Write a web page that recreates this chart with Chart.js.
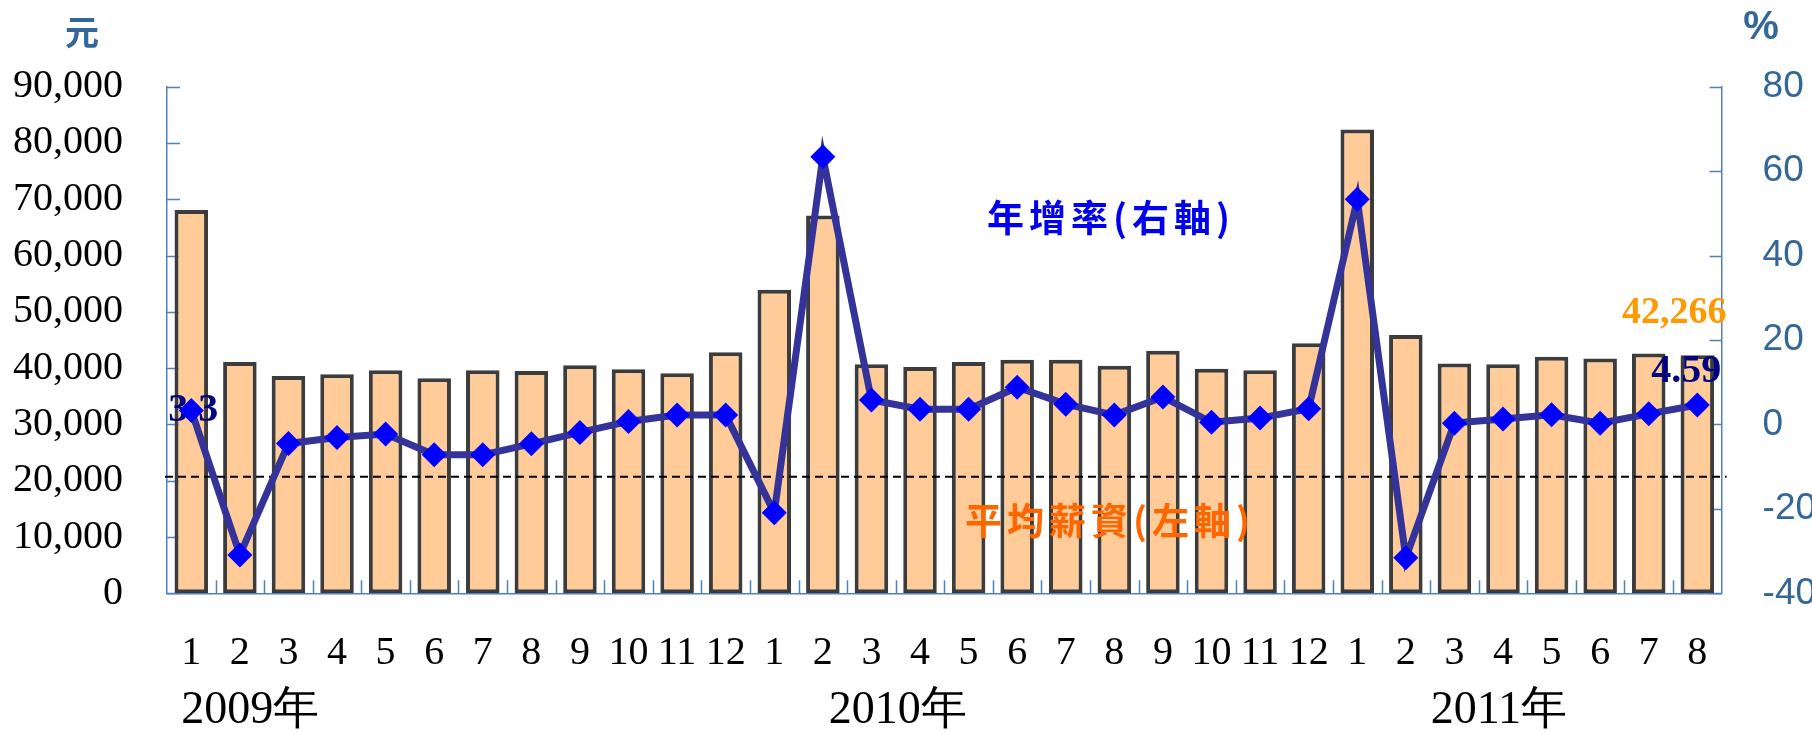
<!DOCTYPE html>
<html>
<head>
<meta charset="utf-8">
<script src="https://cdn.jsdelivr.net/npm/chart.js@4.4.1/dist/chart.umd.min.js"></script>
<style>
  html, body { margin: 0; padding: 0; background: #ffffff; }
  #wrap { width: 1812px; height: 732px; position: relative; }
</style>
</head>
<body>
<div id="wrap"><canvas id="chart" width="1812" height="732"></canvas></div>
<script>
// Monthly categories, Jan 2009 – Aug 2011
const months = [
  '1','2','3','4','5','6','7','8','9','10','11','12',
  '1','2','3','4','5','6','7','8','9','10','11','12',
  '1','2','3','4','5','6','7','8'
];
const yearLabels = ['2009年', '2010年', '2011年'];

// Average monthly wage (NT$), left axis
const avgWage = [
  68100, 41100, 38600, 38900, 39600, 38200, 39600, 39500, 40500, 39800, 39100, 42800,
  53900, 67100, 40700, 40200, 41100, 41500, 41500, 40400, 43100, 39900, 39600, 44400,
  82400, 45900, 40800, 40700, 42000, 41700, 42600, 42266
];

// Year-on-year growth rate (%), right axis
const growthRate = [
  3.3, -30.9, -4.5, -3.1, -2.3, -7.2, -7.2, -4.6, -1.9, 0.7, 2.2, 2.2,
  -20.9, 63.4, 5.8, 3.6, 3.6, 8.8, 4.8, 2.2, 6.5, 0.5, 1.5, 3.7,
  53.3, -31.6, 0.3, 1.3, 2.3, 0.3, 2.5, 4.59
];

// Axis ranges
const wageAxis = { min: 0, max: 90000, step: 10000 };
const rateAxis = { min: -40, max: 80, step: 20 };

// Dashed reference level on the wage axis
const referenceWage = 20700;

const wageUnit = '元';
const rateUnit = '%';
const rateSeriesName = '年增率(右軸)';
const wageSeriesName = '平均薪資(左軸)';

const AXIS_BLUE = '#4F81BD';
const LABEL_BLUE = '#336699';
const SERIF = '"Liberation Serif", "Times New Roman", serif';
const SANS = '"Liberation Sans", Arial, sans-serif';
const CJK = '"Noto Sans CJK TC", "Noto Sans CJK SC", sans-serif';

const fmt = v => Number(v).toLocaleString('en-US');

const decorations = {
  id: 'decorations',
  beforeDatasetsDraw(chart) {
    const { ctx, chartArea: a, scales } = chart;
    ctx.save();
    ctx.strokeStyle = AXIS_BLUE;
    ctx.lineWidth = 1.5;
    // inward major ticks on both value axes
    const yl = scales.yWage, yr = scales.yRate, x = scales.x;
    ctx.beginPath();
    yl.ticks.forEach(t => {
      const py = Math.round(yl.getPixelForValue(t.value)) + 0.5;
      ctx.moveTo(a.left, py); ctx.lineTo(a.left + 13, py);
    });
    yr.ticks.forEach(t => {
      const py = Math.round(yr.getPixelForValue(t.value)) + 0.5;
      ctx.moveTo(a.right, py); ctx.lineTo(a.right - 12, py);
    });
    // category boundary ticks on the x axis
    const half = (x.getPixelForValue(1) - x.getPixelForValue(0)) / 2;
    for (let i = 1; i < months.length; i++) {
      const px = Math.round(x.getPixelForValue(i) - half) + 0.5;
      ctx.moveTo(px, a.bottom); ctx.lineTo(px, a.bottom - 13);
    }
    ctx.stroke();
    ctx.restore();
  },
  afterDatasetDraw(chart, args) {
    if (args.index !== 0) return;
    const { ctx, chartArea: a, scales } = chart;
    ctx.save();
    // dashed reference line
    const ry = scales.yWage.getPixelForValue(referenceWage);
    ctx.strokeStyle = '#000000';
    ctx.lineWidth = 2;
    ctx.setLineDash([8, 5]);
    ctx.beginPath();
    ctx.moveTo(a.left - 2, ry); ctx.lineTo(a.right + 5, ry);
    ctx.stroke();
    ctx.setLineDash([]);

    // value labels
    const lineMeta = chart.getDatasetMeta(1);
    const barMeta = chart.getDatasetMeta(0);
    const last = months.length - 1;
    ctx.textAlign = 'center';
    ctx.textBaseline = 'middle';
    ctx.font = 'bold 40px ' + SERIF;
    ctx.fillStyle = '#000080';
    const p0 = lineMeta.data[0];
    ctx.fillText(String(growthRate[0]), p0.x + 2, p0.y);
    const pl = lineMeta.data[last];
    ctx.fillText(String(growthRate[last]), pl.x - 11, pl.y - 33);
    const bl = barMeta.data[last];
    ctx.font = 'bold 38px ' + SERIF;
    ctx.fillStyle = '#FF9900';
    ctx.fillText(fmt(avgWage[last]), bl.x - 23, bl.y - 42);
    ctx.restore();
  },
  afterDraw(chart) {
    const { ctx, scales } = chart;
    const x = scales.x;
    ctx.save();
    // unit captions
    ctx.textAlign = 'center';
    ctx.textBaseline = 'middle';
    ctx.fillStyle = LABEL_BLUE;
    ctx.font = 'bold 34px ' + CJK;
    ctx.fillText(wageUnit, 82, 32);
    ctx.font = 'bold 40px ' + SANS;
    ctx.fillText(rateUnit, 1761, 28);

    // year captions under the month labels
    ctx.textAlign = 'left';
    ctx.fillStyle = '#000000';
    ctx.font = '46px ' + SERIF;
    const anchors = [x.getPixelForValue(0) - 10, x.getPixelForValue(13) + 6, x.getPixelForValue(25) + 25];
    yearLabels.forEach((t, i) => ctx.fillText(t, anchors[i], 711));

    // series captions
    ctx.font = 'bold 37px ' + CJK;
    try { ctx.letterSpacing = '5px'; } catch (e) {}
    ctx.fillStyle = '#0000EE';
    ctx.fillText(rateSeriesName, 987, 218);
    ctx.fillStyle = '#FF6600';
    ctx.fillText(wageSeriesName, 965, 521);
    ctx.restore();
  }
};

new Chart(document.getElementById('chart'), {
  data: {
    labels: months,
    datasets: [
      {
        type: 'bar',
        label: wageSeriesName,
        data: avgWage,
        yAxisID: 'yWage',
        backgroundColor: '#FFCC99',
        borderColor: '#3C3C3C',
        borderWidth: 4,
        borderSkipped: false,
        categoryPercentage: 1,
        barPercentage: 0.69,
        order: 2
      },
      {
        type: 'line',
        label: rateSeriesName,
        data: growthRate,
        yAxisID: 'yRate',
        borderColor: '#333399',
        borderWidth: 7,
        tension: 0,
        pointStyle: 'rectRot',
        pointRadius: 12.5,
        pointBackgroundColor: '#0000FF',
        pointBorderColor: '#0000FF',
        pointBorderWidth: 0,
        order: 1
      }
    ]
  },
  options: {
    responsive: false,
    animation: false,
    devicePixelRatio: 1,
    layout: { padding: { top: 86.6, left: 0, right: 0, bottom: 0 } },
    plugins: { legend: { display: false }, tooltip: { enabled: false } },
    scales: {
      x: {
        type: 'category',
        offset: true,
        grid: { display: false },
        border: { display: true, color: AXIS_BLUE, width: 1.5 },
        ticks: { color: '#000000', font: { family: SERIF, size: 40 }, padding: 28, maxRotation: 0, autoSkip: false },
        afterFit(s) { s.height = 138.7; }
      },
      yWage: {
        type: 'linear',
        position: 'left',
        min: wageAxis.min,
        max: wageAxis.max,
        grid: { display: false },
        border: { display: true, color: AXIS_BLUE, width: 1.5 },
        ticks: { stepSize: wageAxis.step, color: '#000000', font: { family: SERIF, size: 40 }, padding: 36, callback: v => fmt(v) },
        afterFit(s) { s.width = 167; }
      },
      yRate: {
        type: 'linear',
        position: 'right',
        min: rateAxis.min,
        max: rateAxis.max,
        grid: { display: false },
        border: { display: true, color: AXIS_BLUE, width: 1.5 },
        ticks: { stepSize: rateAxis.step, color: LABEL_BLUE, font: { family: SANS, size: 37 }, padding: 33 },
        afterFit(s) { s.width = 90.4; }
      }
    }
  },
  plugins: [decorations]
});
</script>
</body>
</html>
